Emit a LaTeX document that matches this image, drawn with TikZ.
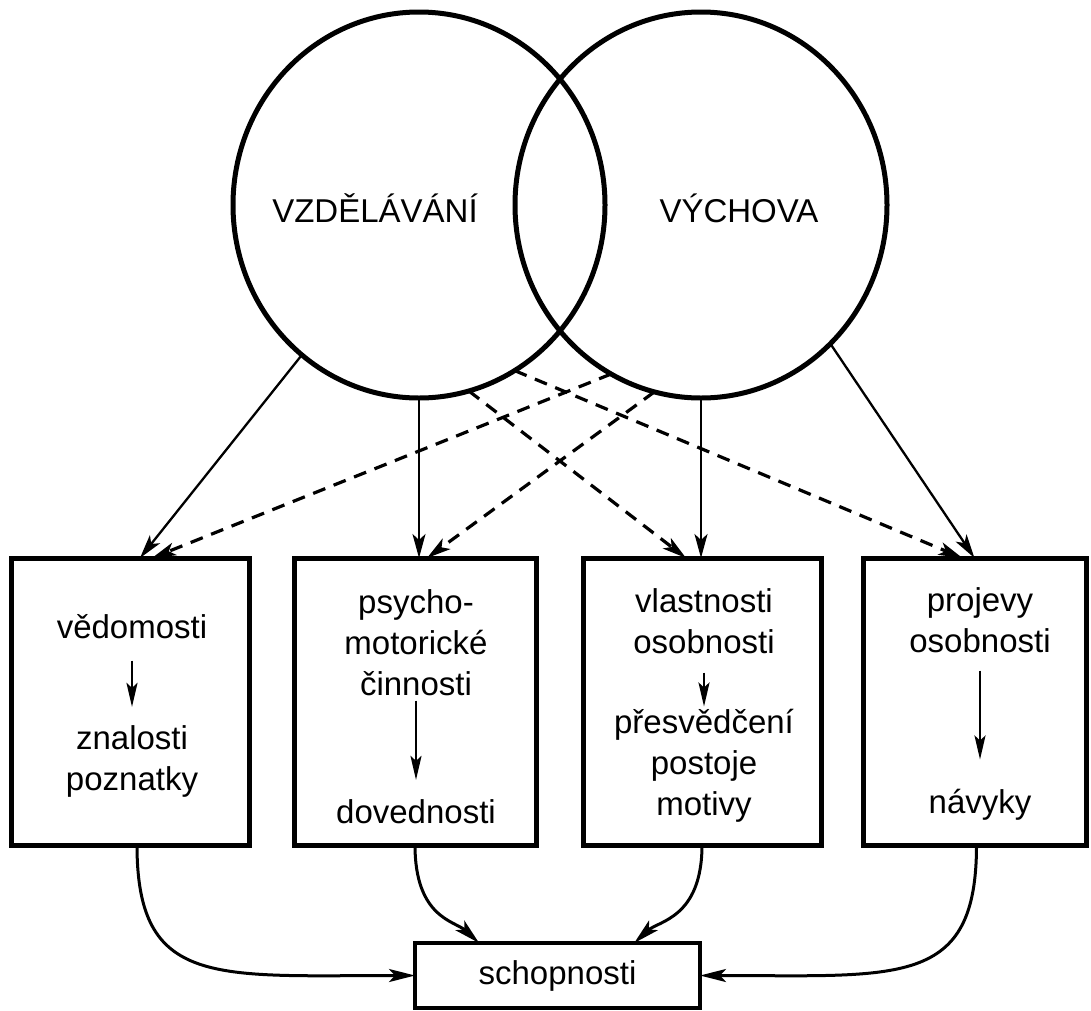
\documentclass[tikz,border=0pt]{standalone}
\usepackage{fontspec}
\setmainfont{Liberation Sans}
\usetikzlibrary{arrows.meta,shapes.geometric,calc}
\begin{document}
\begin{tikzpicture}[x=1pt,y=-1pt,
  circ/.style={ellipse, draw, line width=5pt, minimum width=372pt, minimum height=386pt, inner sep=0pt, outer sep=0pt},
  lbl/.style={font=\fontsize{33}{41}\selectfont, inner sep=0pt, anchor=base, align=center},
  box/.style={draw, line width=5pt, inner sep=0pt, outer sep=0pt},
  conn/.style={line width=2.3pt, -{Stealth[length=24pt,width=13pt,inset=6pt]}},
  dconn/.style={conn, line width=3.2pt, dash pattern=on 13pt off 9pt},
  inarr/.style={line width=2.5pt, -{Stealth[length=24pt,width=11pt,inset=5pt]}},
  curv/.style={line width=3pt, -{Stealth[length=26pt,width=13pt,inset=6pt]}}
]
\useasboundingbox (0,0) rectangle (1091,1010);
\fill[white] (0,0) rectangle (1091,1010);

% circles
\node[circ] (L) at (419,205) {};
\node[circ] (R) at (701,205) {};
\node[lbl] (tL) at (375,222) {VZDĚLÁVÁNÍ};
\node[lbl] (tR) at (739,222) {VÝCHOVA};

% boxes
\node[box, minimum width=238pt, minimum height=287pt] (b1) at (130,701.5) {};
\node[box, minimum width=242pt, minimum height=287pt] (b2) at (415,701.5) {};
\node[box, minimum width=238pt, minimum height=287pt] (b3) at (702,701.5) {};
\node[box, minimum width=223pt, minimum height=287pt] (b4) at (974.5,701.5) {};
\node[box, line width=3.5pt, minimum width=285pt, minimum height=65pt, font=\fontsize{33}{41}\selectfont] (s) at (557.5,975.5) {schopnosti};

% box texts (base = baseline of last line)
\node[lbl] (v1) at (132,638) {vědomosti};
\node[lbl] (z1) at (132,790) {znalosti\\poznatky};
\node[lbl] (p2) at (416,695) {psycho-\\motorické\\činnosti};
\node[lbl] (d2) at (416,823) {dovednosti};
\node[lbl] (o3) at (704,653) {vlastnosti\\osobnosti};
\node[lbl] (m3) at (704,815) {přesvědčení\\postoje\\motivy};
\node[lbl] (o4) at (980,652) {projevy\\osobnosti};
\node[lbl] (n4) at (980,813) {návyky};

% inner arrows
\draw[inarr, shorten <=22pt, shorten >=18pt] (v1.south) -- (z1.north);
\draw[inarr, shorten <=5pt, shorten >=19pt] (p2.south) -- (d2.north);
\draw[inarr, shorten <=19pt, shorten >=2pt] (o3.south) -- (m3.north);
\draw[inarr, shorten <=18pt, shorten >=29pt] (o4.south) -- (n4.north);

% connectors from circles
\draw[conn] (L.232) -- ($(b1.north)+(10,0)$);
\draw[dconn] (R.242) -- ($(b1.north)+(22,0)$);
\draw[conn] (L.south) -- (L.south |- b2.north);
\draw[dconn] (R.256) -- ($(b2.north)+(12,0)$);
\draw[conn] (R.south) -- (R.south |- b3.north);
\draw[dconn] (L.285) -- ($(b3.north)+(-16,0)$);
\draw[conn] (R.313) -- (b4.north);
\draw[dconn] (L.300) -- ($(b4.north)+(-12,0)$);

% bottom curves
\draw[curv] ($(b1.south)+(7,0)$) .. controls +(0,143) and +(-200,0) .. (s.west);
\draw[curv] ($(b4.south)+(2,0)$) .. controls +(0,143) and +(200,0) .. (s.east);
\draw[curv] (b2.south) .. controls +(0,73) and +(-24,-22) .. ($(s.north west)!0.225!(s.north east)$);
\draw[curv] (b3.south) .. controls +(0,73) and +(24,-22) .. ($(s.north west)!0.769!(s.north east)$);
\end{tikzpicture}
\end{document}
